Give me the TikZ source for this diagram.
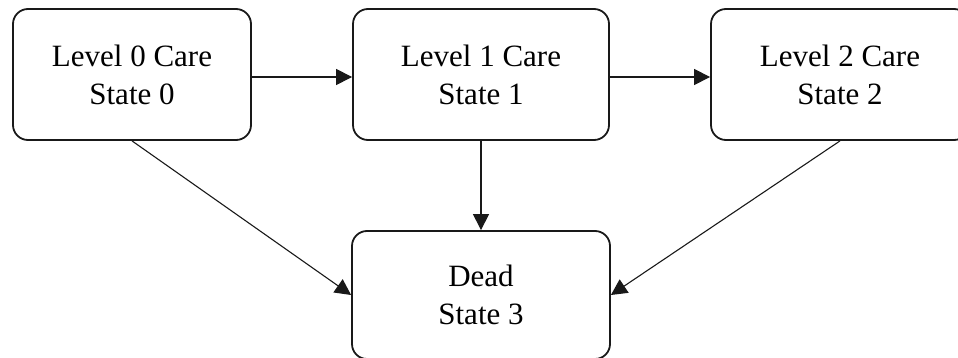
\documentclass[tikz,border=0pt]{standalone}
\usepackage{fontspec}
\setmainfont{Liberation Serif}
\usetikzlibrary{arrows.meta}
\begin{document}
\begin{tikzpicture}[x=1pt,y=-1pt,
  statebox/.style={draw=black!90, line width=1.8pt, rounded corners=15pt, align=center,
    font=\fontsize{31}{38}\selectfont, inner sep=0pt},
  conn/.style={draw=black!90, line width=1.1pt, -{Triangle[length=16pt,width=16pt]}}]
\useasboundingbox (0,0) rectangle (958,358);
\clip (0,0) rectangle (958,358);
\node[statebox, minimum width=238pt, minimum height=131pt] (s0) at (132,74.5) {Level 0 Care\\State 0};
\node[statebox, minimum width=256pt, minimum height=131pt] (s1) at (481,74.5) {Level 1 Care\\State 1};
\node[statebox, minimum width=258pt, minimum height=131pt] (s2) at (840,74.5) {Level 2 Care\\State 2};
\node[statebox, minimum width=258pt, minimum height=128pt] (s3) at (481,295) {Dead\\State 3};
\draw[conn] ([yshift=-2.5pt]s0.east) -- ([yshift=-2.5pt]s1.west);
\draw[conn] ([yshift=-2.5pt]s1.east) -- ([yshift=-2.5pt]s2.west);
\draw[conn] (s1) -- (s3);
\draw[conn] (s0.south) -- (s3.west);
\draw[conn] (s2.south) -- (s3.east);
\end{tikzpicture}
\end{document}
